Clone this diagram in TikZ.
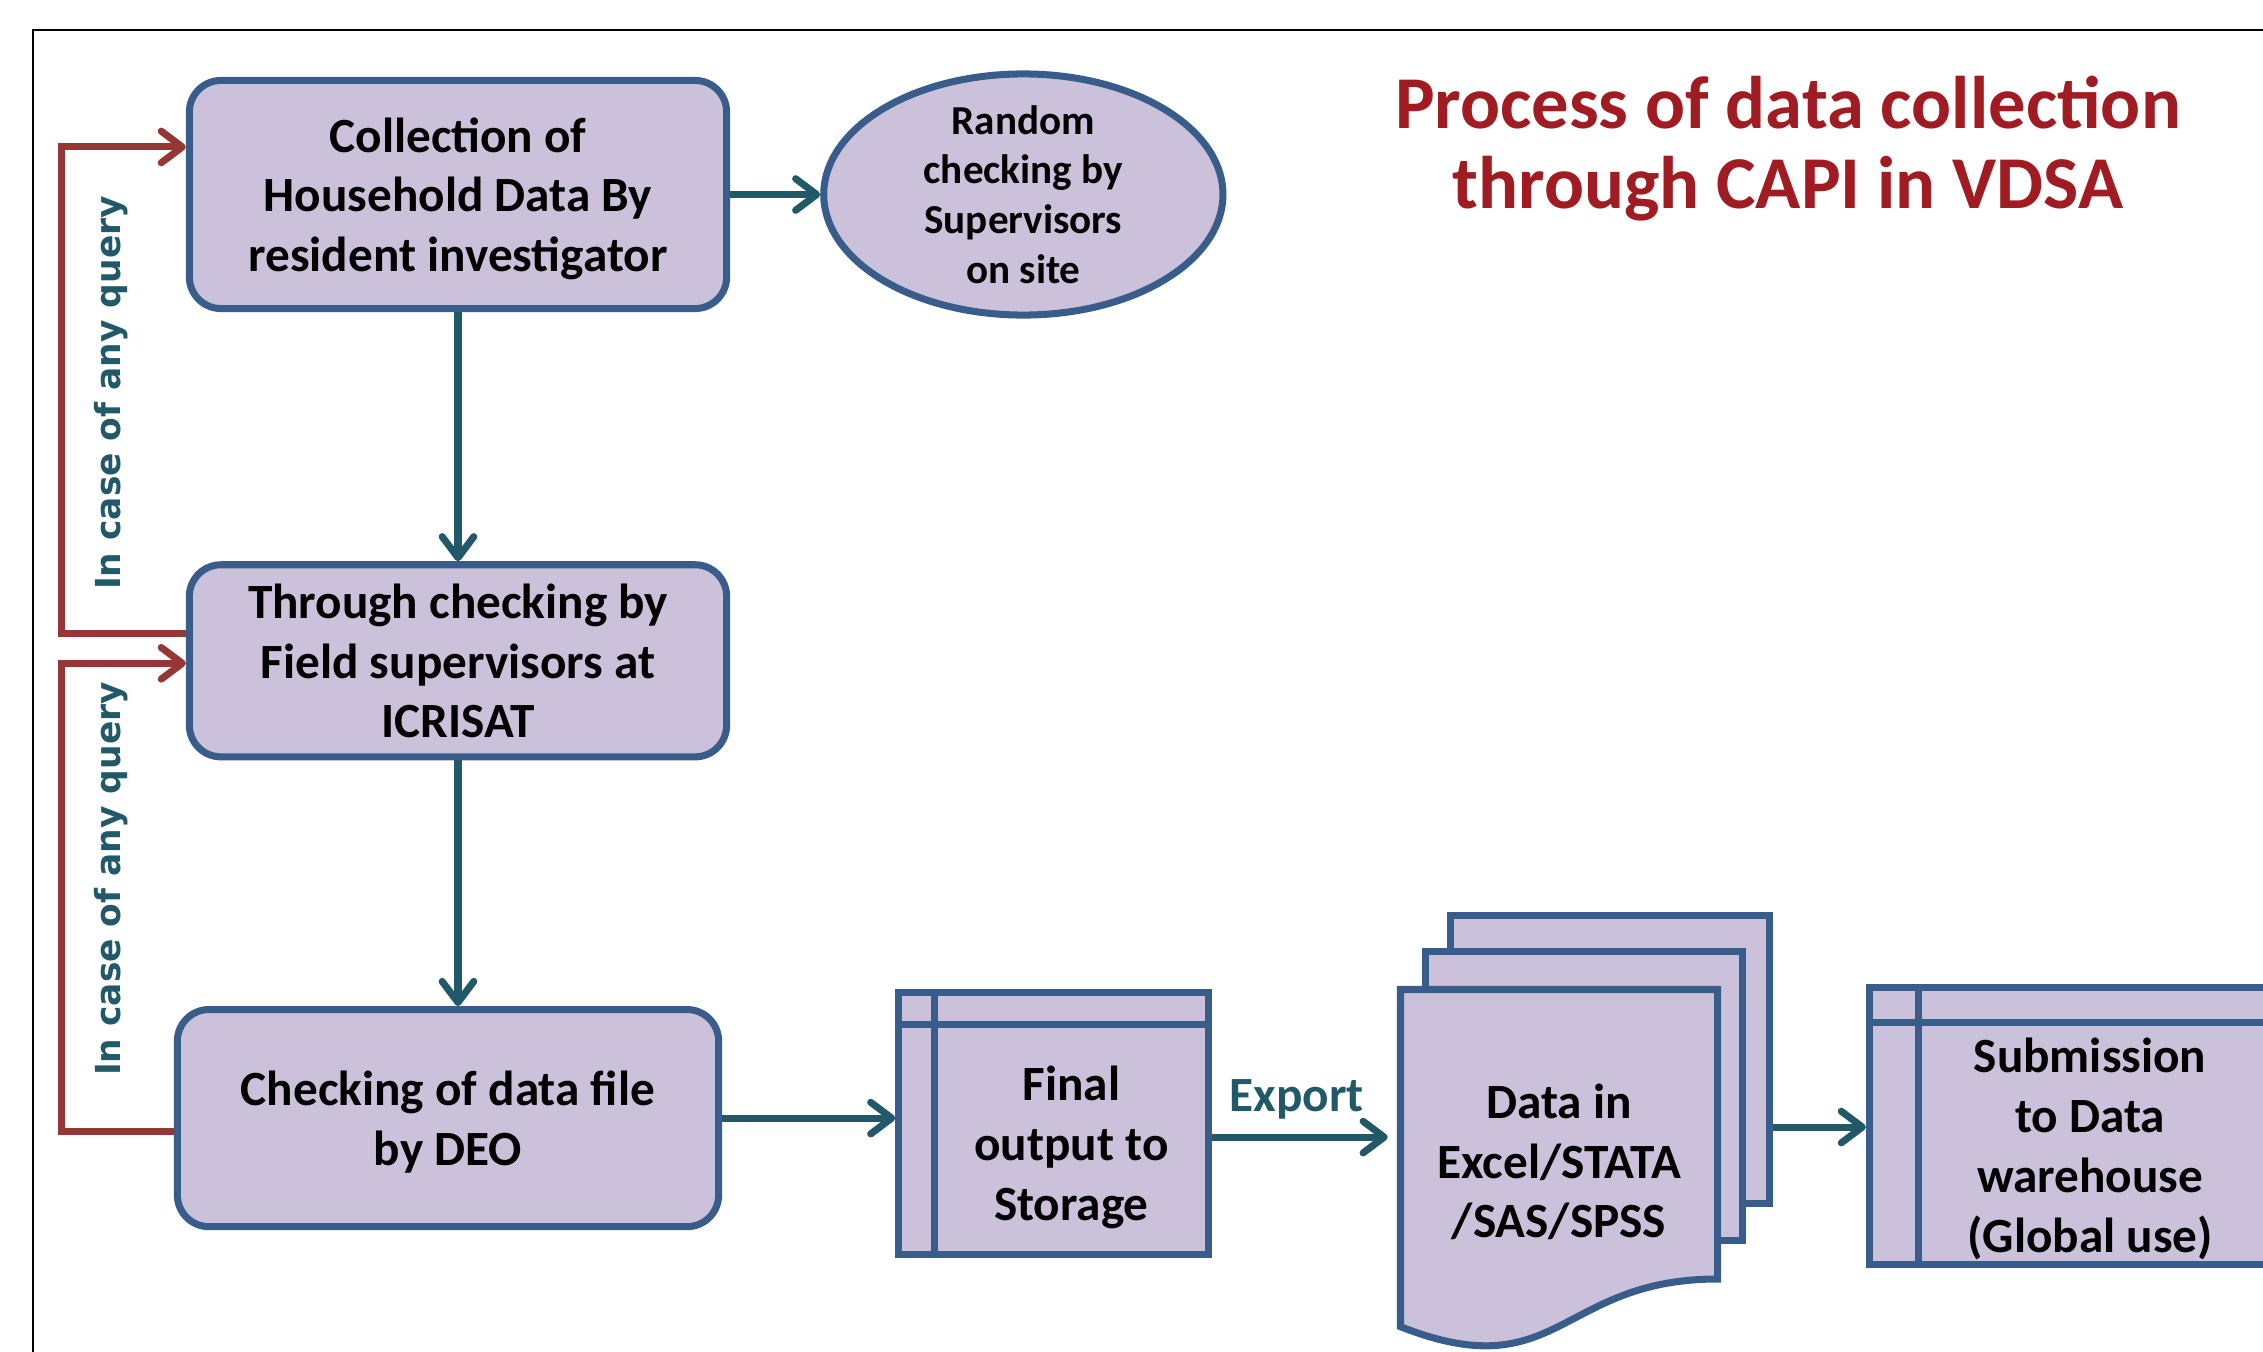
\documentclass[tikz,border=0pt]{standalone}
\usepackage{fontspec}
\setmainfont{Carlito}
\newfontfamily\queryfont{DejaVu Sans}
\usetikzlibrary{positioning,shapes.geometric,arrows.meta}

\definecolor{boxfill}{RGB}{204,193,218}
\definecolor{boxline}{RGB}{56,93,138}
\definecolor{flowteal}{RGB}{33,89,104}
\definecolor{queryred}{RGB}{149,55,53}
\definecolor{titlered}{RGB}{160,28,34}

\tikzset{
  procbox/.style={draw=boxline, fill=boxfill, line width=2pt, rounded corners=9pt,
    align=center, inner sep=0pt, text depth=0pt, font=\fontsize{14}{17}\selectfont\bfseries},
  checkell/.style={ellipse, draw=boxline, fill=boxfill, line width=2pt,
    align=center, inner sep=-6pt, font=\fontsize{11.7}{14.1}\selectfont\bfseries},
  storebox/.style 2 args={draw=boxline, fill=boxfill, line width=2pt,
    path picture={
      \draw[boxline, line width=2pt]
        ([xshift=#1]path picture bounding box.north west) --
        ([xshift=#1]path picture bounding box.south west);
      \draw[boxline, line width=2pt]
        ([yshift=-#2]path picture bounding box.north west) --
        ([yshift=-#2]path picture bounding box.north east);
    }},
  docpage/.style={draw=boxline, fill=boxfill, line width=2pt},
  boxtext/.style={align=center, inner sep=0pt, font=\fontsize{14}{17}\selectfont\bfseries},
  flow/.style={draw=flowteal, line width=2pt, -{Straight Barb[length=6pt,width=9pt,round]}},
  query/.style={draw=queryred, line width=2pt, -{Straight Barb[length=6pt,width=9pt,round]}},
  querytxt/.style={rotate=90, text=flowteal, inner sep=0pt,
    font=\queryfont\bfseries\fontsize{9.8}{12}\selectfont},
  exportlbl/.style={text=flowteal, font=\fontsize{14}{17}\selectfont\bfseries},
  titletxt/.style={text=titlered, align=center, inner sep=0pt,
    font=\fontsize{21.2}{22.7}\selectfont\bfseries},
  frameline/.style={draw=black, line width=0.7pt}
}

\begin{document}
\begin{tikzpicture}[x=0.01cm, y=-0.01cm]

    \useasboundingbox (0,0) rectangle (2263,1351);
    \clip (0,0) rectangle (2263,1351);

    % Frame and title
    \draw[frameline] (33,1400) |- (2300,30);
    \node[titletxt] (title) at (1788,149) {Process of data collection\\through CAPI in VDSA};

    % Define nodes
    \node[procbox, minimum width=5.37cm, minimum height=2.28cm] (collect) at (458,194.5)
        {Collection of\\Household Data By\\resident investigator};
    \node[checkell, minimum width=3.99cm, minimum height=2.41cm, right=0.90cm of collect] (random)
        {Random\\checking by\\Supervisors\\on site};
    \node[procbox, minimum width=5.37cm, minimum height=1.92cm, below=2.49cm of collect] (field)
        {Through checking by\\Field supervisors at\\ICRISAT};
    \node[procbox, minimum width=5.41cm, minimum height=2.17cm, below=2.455cm of field, xshift=-0.1cm] (deo)
        {Checking of data file\\by DEO};

    % Storage boxes
    \node[storebox={0.36cm}{0.32cm}, minimum width=3.10cm, minimum height=2.62cm,
          right=1.73cm of deo, yshift=-0.055cm] (final) {};
    \node[boxtext] (finaltxt) at ([xshift=0.175cm, yshift=-0.235cm]final.center) {Final\\output to\\Storage};
    \node[storebox={0.49cm}{0.35cm}, minimum width=4.02cm, minimum height=2.77cm] (submit) at (2070.5,1126) {};
    \node[boxtext] (submittxt) at ([xshift=0.195cm, yshift=-0.23cm]submit.center)
        {Submission\\to Data\\warehouse\\(Global use)};

    % Data files
    \node[docpage, minimum width=3.19cm, minimum height=2.88cm] (doc3) at (1610,1059.5) {};
    \node[docpage, minimum width=3.17cm, minimum height=2.89cm] (doc2) at (1584,1096) {};
    \filldraw[docpage] (1400.5,989.5) -- (1717.5,989.5) -- (1717.5,1279)
        .. controls (1559,1279) and (1559,1389) .. (1400.5,1326.7) -- cycle;
    \node[boxtext, minimum width=3.17cm, minimum height=3.41cm] (doc1) at (1559,1162)
        {Data in\\Excel/STATA\\/SAS/SPSS};

    % Connect the nodes
    \draw[flow] (collect) -- (random);
    \draw[flow] (collect) -- (field);
    \draw[flow] (field.south) -- (field.south |- deo.north);
    \draw[flow] (deo.east) -- (deo.east -| final.west);
    \draw[flow, shorten >=0.12cm] ([yshift=-0.135cm]final.east) -- ([yshift=-0.135cm]final.east -| doc1.west)
        node[exportlbl, pos=0.45, above=0.03cm] (export) {Export};
    \draw[flow] ([yshift=-0.675cm]doc3.east) -- ([yshift=-0.675cm]doc3.east -| submit.west);

    % Query loops
    \draw[query] ([yshift=0.275cm]field.west) -- ++(-124,0) |- ([yshift=0.475cm]collect.west);
    \draw[query] ([yshift=-0.13cm]deo.west) -- ++(-112,0) |- ([yshift=-0.025cm]field.west);
    \node[querytxt] (query1) at (111,393) {In case of any query};
    \node[querytxt] (query2) at (111,879) {In case of any query};

\end{tikzpicture}
\end{document}
